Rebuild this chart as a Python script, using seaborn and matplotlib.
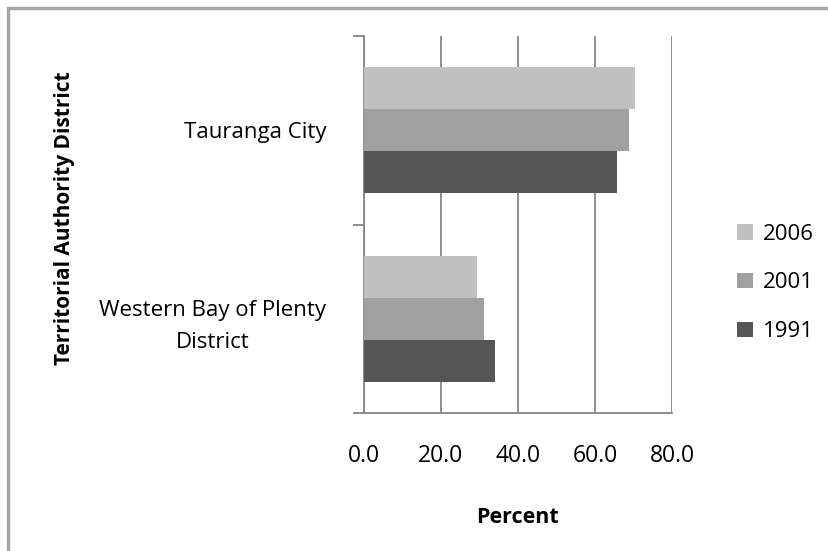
import matplotlib
matplotlib.use("Agg")
import matplotlib.pyplot as plt
import seaborn as sns
import pandas as pd
from matplotlib.patches import Rectangle, Patch

districts = ["Tauranga City", "Western Bay of Plenty\nDistrict"]
years = ["2006", "2001", "1991"]
values_2006 = [70.5, 29.4]
values_2001 = [68.8, 31.2]
values_1991 = [65.8, 34.1]
colors = ["#C0C0C0", "#A0A0A0", "#555555"]
xticks = [0, 20, 40, 60, 80]
xtick_labels = ["0.0", "20.0", "40.0", "60.0", "80.0"]

rows = []
for yr, vals in zip(years, [values_2006, values_2001, values_1991]):
    for d, v in zip(districts, vals):
        rows.append({"District": d, "Year": yr, "Percent": v})
df = pd.DataFrame(rows)

sns.set_style("white")
plt.rcParams["font.family"] = ["Open Sans", "DejaVu Sans"]
plt.rcParams["text.color"] = "black"
plt.rcParams["xtick.labelcolor"] = "black"
plt.rcParams["ytick.labelcolor"] = "black"
plt.rcParams["axes.labelcolor"] = "black"

fig = plt.figure(figsize=(8.29, 5.51), dpi=100)
ax = fig.add_axes([364/829, 1-413/551, (672-364)/829, (413-36)/551])

sns.barplot(data=df, y="District", x="Percent", hue="Year", hue_order=years,
            order=districts, palette=colors, orient="h", width=0.667,
            saturation=1, edgecolor="none", ax=ax, legend=False, zorder=3)

gc = "#868686"
ax.set_xlim(0, 80)
ax.set_ylim(1.5, -0.5)
ax.set_xticks(xticks)
ax.set_xticklabels(xtick_labels, fontsize=16.5)
ax.tick_params(axis="x", direction="out", length=8, width=1.3, color=gc, pad=14)
ax.set_yticks([0, 1])
ax.set_yticks([-0.5, 0.5, 1.5], minor=True)
ax.tick_params(axis="y", which="major", length=0, pad=27, labelsize=16)
ax.tick_params(axis="y", which="minor", direction="out", length=8, width=1.3, color=gc, left=True)
plt.setp(ax.get_yticklabels(), multialignment="center", linespacing=1.65)
ax.xaxis.grid(True, color=gc, linewidth=1.3, zorder=0)
ax.set_axisbelow(True)
for s in ["top", "right"]:
    ax.spines[s].set_visible(False)
for s in ["left", "bottom"]:
    ax.spines[s].set_color(gc)
    ax.spines[s].set_linewidth(1.3)

ax.set_xlabel("Percent", fontsize=15.5, fontweight="bold")
ax.xaxis.set_label_coords(517/829, 1-507/551, transform=fig.transFigure)
ax.set_ylabel("Territorial Authority District", fontsize=15, fontweight="bold")
ax.yaxis.set_label_coords(75/829, 1-218/551, transform=fig.transFigure)

handles = [Patch(facecolor=c, edgecolor="none") for c in colors]
fig.legend(handles, years, loc="center left", bbox_to_anchor=(726/829, 1-283/551),
           frameon=False, fontsize=16, handlelength=0.7, handleheight=0.7,
           labelspacing=1.25, handletextpad=0.45, borderpad=0)

fig.patches.append(Rectangle((8/829, -0.1), 1.2, 1.1 - 8/551, transform=fig.transFigure,
                             fill=False, edgecolor="#A6A6A6", linewidth=2.5))

fig.savefig("out.png", dpi=100)
